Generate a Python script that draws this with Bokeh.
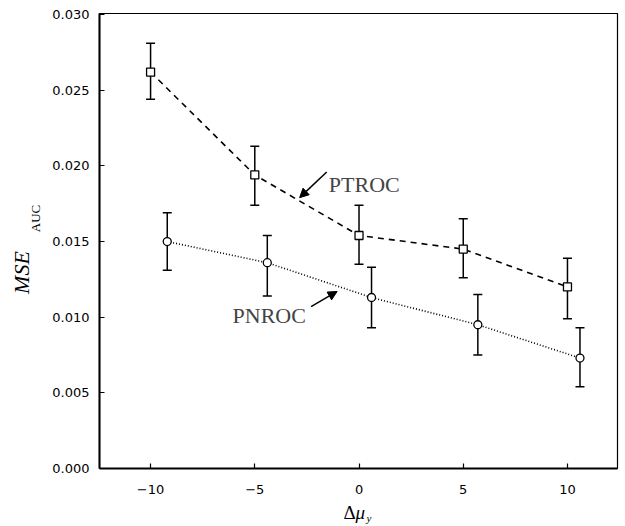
import math
from bokeh.plotting import figure
from bokeh.layouts import row, column
from bokeh.core.properties import value
from bokeh.models import (Range1d, FixedTicker, NumeralTickFormatter,
                          Whisker, ColumnDataSource, Label, Arrow, NormalHead, TeeHead)
from bokeh.embed import file_html
from bokeh.resources import INLINE

# ---- data ----
ptroc_x = [-10, -5, 0, 5, 10]
ptroc_y = [0.0262, 0.0194, 0.0154, 0.0145, 0.0120]
ptroc_lo = [0.0244, 0.0174, 0.0135, 0.0126, 0.0099]
ptroc_hi = [0.0281, 0.0213, 0.0174, 0.0165, 0.0139]

pnroc_x = [-9.2, -4.4, 0.6, 5.7, 10.6]
pnroc_y = [0.0150, 0.0136, 0.0113, 0.0095, 0.0073]
pnroc_lo = [0.0131, 0.0114, 0.0093, 0.0075, 0.0054]
pnroc_hi = [0.0169, 0.0154, 0.0133, 0.0115, 0.0093]

x_ticks = [-10, -5, 0, 5, 10]
y_ticks = [0.0, 0.005, 0.010, 0.015, 0.020, 0.025, 0.030]

SERIF = "Liberation Serif"
SANS = "DejaVu Sans"

LEFT_W = 45      # strip holding the y-axis title
MAIN_H = 500     # height of the main plot canvas
BOTTOM_H = 26    # strip holding the x-axis title

p = figure(width=625 - LEFT_W, height=MAIN_H, output_backend="svg", toolbar_location=None,
           x_range=Range1d(-12.45, 12.4), y_range=Range1d(0.0, 0.03007),
           min_border_left=99 - LEFT_W, min_border_right=8, min_border_top=13,
           min_border_bottom=MAIN_H - 468)
p.xgrid.visible = False
p.ygrid.visible = False
p.outline_line_color = "black"
p.outline_line_width = 1.2
p.background_fill_color = "white"
p.border_fill_color = "white"

for ax in (p.xaxis[0], p.yaxis[0]):
    ax.axis_line_width = 2
    ax.axis_line_color = "black"
    ax.major_tick_in = 5
    ax.major_tick_out = 0
    ax.major_tick_line_width = 1.2
    ax.minor_tick_line_color = None
    ax.major_label_text_font = SANS
    ax.major_label_text_font_size = "13px"
    ax.major_label_text_color = "black"

p.xaxis[0].ticker = FixedTicker(ticks=x_ticks)
p.xaxis[0].major_label_standoff = 16
p.yaxis[0].ticker = FixedTicker(ticks=y_ticks)
p.yaxis[0].formatter = NumeralTickFormatter(format="0.000")
p.yaxis[0].major_label_standoff = 10

# ---- series ----
src_pt = ColumnDataSource(dict(x=ptroc_x, y=ptroc_y, lo=ptroc_lo, hi=ptroc_hi))
src_pn = ColumnDataSource(dict(x=pnroc_x, y=pnroc_y, lo=pnroc_lo, hi=pnroc_hi))

p.line("x", "y", source=src_pt, line_color="black", line_width=1.6, line_dash="6 5")
p.line("x", "y", source=src_pn, line_color="black", line_width=1.6, line_dash="1 2")

for src in (src_pt, src_pn):
    w = Whisker(source=src, base="x", lower="lo", upper="hi", line_width=1.5,
                line_color="black",
                upper_head=TeeHead(size=9, line_width=1.5, line_color="black"),
                lower_head=TeeHead(size=9, line_width=1.5, line_color="black"))
    p.add_layout(w)

p.scatter("x", "y", source=src_pt, marker="square", size=8, fill_color="white",
          line_color="black", line_width=1.3)
p.scatter("x", "y", source=src_pn, marker="circle", size=8, fill_color="white",
          line_color="black", line_width=1.3)

# ---- annotations ----
p.add_layout(Label(x=-1.45, y=0.0188, text="PTROC", text_font=SERIF,
                   text_font_size="22px", text_baseline="alphabetic", text_align="left"))
p.add_layout(Arrow(x_start=-1.55, y_start=0.0196, x_end=-2.85, y_end=0.0179,
                   line_width=1.5, end=NormalHead(size=9, fill_color="black", line_width=1)))

p.add_layout(Label(x=-2.55, y=0.0101, text="PNROC", text_font=SERIF,
                   text_font_size="22px", text_baseline="alphabetic", text_align="right"))
p.add_layout(Arrow(x_start=-2.3, y_start=0.0107, x_end=-1.05, y_end=0.0117,
                   line_width=1.5, end=NormalHead(size=9, fill_color="black", line_width=1)))

# ---- y-axis title strip (MSE with subscript AUC), pixel coordinates from top-left ----
left = figure(frame_width=LEFT_W, frame_height=MAIN_H, output_backend="svg",
              toolbar_location=None, x_range=Range1d(0, LEFT_W), y_range=Range1d(MAIN_H, 0),
              x_axis_type=None, y_axis_type=None, min_border=0)
left.outline_line_color = None
left.border_fill_color = "white"
left.background_fill_color = "white"
left.text(x=[21], y=[259], text=["MSE"], angle=math.pi / 2,
          text_font=value(SERIF), text_font_style="italic", text_font_size="22px",
          text_baseline="middle", text_align="center", text_color="black")
left.text(x=[35], y=[205], text=["AUC"], angle=math.pi / 2,
          text_font=value(SERIF), text_font_size="13px",
          text_baseline="middle", text_align="center", text_color="black")

# ---- x-axis title strip (Δμ with subscript y), pixel coordinates from top-left ----
bottom = figure(frame_width=625, frame_height=BOTTOM_H, output_backend="svg",
                toolbar_location=None, x_range=Range1d(0, 625),
                y_range=Range1d(MAIN_H + BOTTOM_H, MAIN_H),
                x_axis_type=None, y_axis_type=None, min_border=0)
bottom.outline_line_color = None
bottom.border_fill_color = "white"
bottom.background_fill_color = "white"
bottom.text(x=[343], y=[512], text=["Δ"],
            text_font=value(SERIF), text_font_size="19px",
            text_baseline="middle", text_align="left", text_color="black")
bottom.text(x=[355], y=[512], text=["μ"],
            text_font=value(SERIF), text_font_style="italic", text_font_size="19px",
            text_baseline="middle", text_align="left", text_color="black")
bottom.text(x=[366], y=[517], text=["y"],
            text_font=value(SERIF), text_font_style="italic", text_font_size="11px",
            text_baseline="middle", text_align="left", text_color="black")

layout = column(row(left, p, spacing=0), bottom, spacing=0)

open("out.html", "w").write(file_html(layout, INLINE))
